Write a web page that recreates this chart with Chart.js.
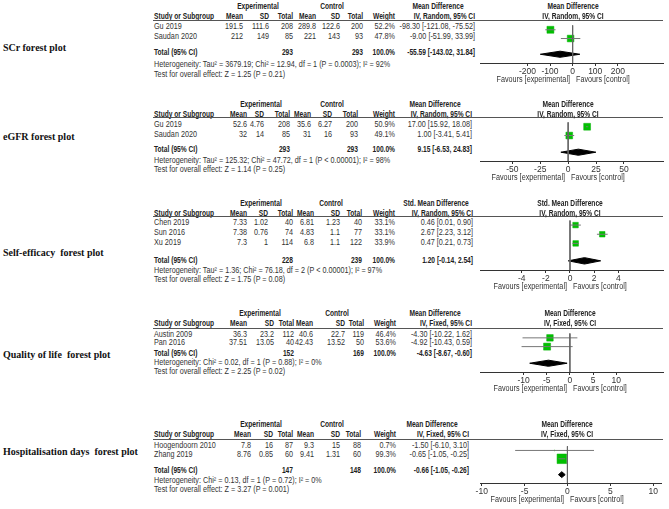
<!DOCTYPE html>
<html>
<head>
<meta charset="utf-8">
<title>Forest plots</title>
<script src="https://cdn.jsdelivr.net/npm/chart.js@4"></script>
<style>
  body { margin: 0; width: 669px; height: 509px; position: relative; overflow: hidden; background: #fff; }
  .t { position: absolute; white-space: pre; font: 8.5px "Liberation Sans", Arial, sans-serif; line-height: 0.9; color: #333; }
  .b { font-weight: bold; color: #222; }
  .lbl { position: absolute; white-space: pre; font: bold 10px "Liberation Serif", "Times New Roman", serif; line-height: 1; color: #111; transform: translateY(-50%); }
  .rule { position: absolute; height: 1px; background: #555; }
  canvas { position: absolute; }
</style>
</head>
<body>
<script>
// study rows: name, exp mean, exp SD, exp total, ctl mean, ctl SD, ctl total, weight %, effect, lower, upper
// total rows: exp total, ctl total, effect, lower, upper

// SCr
const scrRows = [
  ["Gu 2019", 191.5, 111.6, 208, 289.8, 122.6, 200, 52.2, -98.30, -121.08, -75.52],
  ["Saudan 2020", 212, 149, 85, 221, 143, 93, 47.8, -9.00, -51.99, 33.99]
];
const scrTotal = [293, 293, -55.59, -143.02, 31.84];
const scrTicks = [-200, -100, 0, 100, 200];
const scrRange = [-410, 400];
const scrHet = "Heterogeneity: Tau² = 3679.19; Chi² = 12.94, df = 1 (P = 0.0003); I² = 92%";
const scrTest = "Test for overall effect: Z = 1.25 (P = 0.21)";

// eGFR
const egfrRows = [
  ["Gu 2019", 52.6, 4.76, 208, 35.6, 6.27, 200, 50.9, 17.00, 15.92, 18.08],
  ["Saudan 2020", 32, 14, 85, 31, 16, 93, 49.1, 1.00, -3.41, 5.41]
];
const egfrTotal = [293, 293, 9.15, -6.53, 24.83];
const egfrTicks = [-50, -25, 0, 25, 50];
const egfrRange = [-79, 85];
const egfrHet = "Heterogeneity: Tau² = 125.32; Chi² = 47.72, df = 1 (P < 0.00001); I² = 98%";
const egfrTest = "Test for overall effect: Z = 1.14 (P = 0.25)";

// Self-efficacy
const effRows = [
  ["Chen 2019", 7.33, 1.02, 40, 6.81, 1.23, 40, 33.1, 0.46, 0.01, 0.90],
  ["Sun 2016", 7.38, 0.76, 74, 4.83, 1.1, 77, 33.1, 2.67, 2.23, 3.12],
  ["Xu 2019", 7.3, 1, 114, 6.8, 1.1, 122, 33.9, 0.47, 0.21, 0.73]
];
const effTotal = [228, 239, 1.20, -0.14, 2.54];
const effTicks = [-4, -2, 0, 2, 4];
const effRange = [-7.45, 7.7];
const effHet = "Heterogeneity: Tau² = 1.36; Chi² = 76.18, df = 2 (P < 0.00001); I² = 97%";
const effTest = "Test for overall effect: Z = 1.75 (P = 0.08)";

// Quality of life
const qolRows = [
  ["Austin 2009", 36.3, 23.2, 112, 40.6, 22.7, 119, 46.4, -4.30, -10.22, 1.62],
  ["Pan 2016", 37.51, 13.05, 40, 42.43, 13.52, 50, 53.6, -4.92, -10.43, 0.59]
];
const qolTotal = [152, 169, -4.63, -8.67, -0.60];
const qolTicks = [-10, -5, 0, 5, 10];
const qolRange = [-19.4, 20.1];
const qolHet = "Heterogeneity: Chi² = 0.02, df = 1 (P = 0.88); I² = 0%";
const qolTest = "Test for overall effect: Z = 2.25 (P = 0.02)";

// Hospitalisation days
const hospRows = [
  ["Hoogendoorn 2010", 7.8, 16, 87, 9.3, 15, 88, 0.7, -1.50, -6.10, 3.10],
  ["Zhang 2019", 8.76, 0.85, 60, 9.41, 1.31, 60, 99.3, -0.65, -1.05, -0.25]
];
const hospTotal = [147, 148, -0.66, -1.05, -0.26];
const hospTicks = [-10, -5, 0, 5, 10];
const hospRange = [-10.2, 11];
const hospHet = "Heterogeneity: Chi² = 0.13, df = 1 (P = 0.72); I² = 0%";
const hospTest = "Test for overall effect: Z = 3.27 (P = 0.001)";

const plots = [
  { label: "SCr forest plot", rows: scrRows, total: scrTotal, ticks: scrTicks, range: scrRange,
    effect: "Mean Difference", method: "IV, Random, 95% CI", het: scrHet, test: scrTest },
  { label: "eGFR forest plot", rows: egfrRows, total: egfrTotal, ticks: egfrTicks, range: egfrRange,
    effect: "Mean Difference", method: "IV, Random, 95% CI", het: egfrHet, test: egfrTest },
  { label: "Self-efficacy  forest plot", rows: effRows, total: effTotal, ticks: effTicks, range: effRange,
    effect: "Std. Mean Difference", method: "IV, Random, 95% CI", het: effHet, test: effTest },
  { label: "Quality of life  forest plot", rows: qolRows, total: qolTotal, ticks: qolTicks, range: qolRange,
    effect: "Mean Difference", method: "IV, Fixed, 95% CI", het: qolHet, test: qolTest },
  { label: "Hospitalisation days  forest plot", rows: hospRows, total: hospTotal, ticks: hospTicks, range: hospRange,
    effect: "Mean Difference", method: "IV, Fixed, 95% CI", het: hospHet, test: hospTest }
];

// where each panel sits on the page (px)
const layout = [
  { top: 20, gap: 1.3, labelY: 48, groupY: 7, headY: 16.5, rowsY: [26.5, 36.5], totalY: 53, hetY: 65, testY: 75,
    cols: [243, 269, 293, 316, 340, 363, 395, 475], exp: 258, ctl: 332 },
  { top: 117, gap: 1.4, labelY: 137, groupY: 105, headY: 114.5, rowsY: [125, 134.5], totalY: 149.5, hetY: 161, testY: 170,
    cols: [247, 264, 290, 311, 332, 358, 395, 472], exp: 261, ctl: 332 },
  { top: 216, gap: 1.4, labelY: 253, groupY: 203.5, headY: 213.5, rowsY: [223, 233, 243], totalY: 260.5, hetY: 270.5, testY: 280,
    cols: [247, 268, 293, 314, 340, 362, 395, 473], exp: 261, ctl: 331 },
  { top: 328, gap: 1.4, labelY: 355, groupY: 314, headY: 323.5, rowsY: [334.5, 343], totalY: 354, hetY: 363, testY: 371.5,
    cols: [247, 274, 294, 313, 345, 364, 396, 472], exp: 260, ctl: 337 },
  { top: 439, gap: 1.4, labelY: 452, groupY: 425, headY: 434.5, rowsY: [445.5, 455], totalY: 471, hetY: 480.5, testY: 489.5,
    cols: [251, 273, 293, 314, 340, 361, 396, 469], exp: 261, ctl: 332 }
];

function put(text, x, y, align, cls) {
  align = align || "left";
  const el = document.createElement("div");
  el.className = "t" + (cls ? " " + cls : "");
  el.textContent = text;
  el.style.left = x + "px";
  el.style.top = y + "px";
  const shift = { left: "0", right: "-100%", center: "-50%" }[align];
  const squeeze = cls === "b" ? 0.78 : 0.85;
  el.style.transformOrigin = { left: "left center", right: "right center", center: "center center" }[align];
  el.style.transform = "translate(" + shift + ", -50%) scaleX(" + squeeze + ")";
  document.body.appendChild(el);
  return el;
}

function ci(est, lo, hi) {
  return est.toFixed(2) + " [" + lo.toFixed(2) + ", " + hi.toFixed(2) + "]";
}

plots.forEach((p, k) => {
  const L = layout[k];
  const c = L.cols;
  const n = p.rows.length;

  // left caption
  const cap = document.createElement("div");
  cap.className = "lbl";
  cap.textContent = p.label;
  cap.style.left = "3px";
  cap.style.top = L.labelY + "px";
  document.body.appendChild(cap);

  // table header
  put("Experimental", L.exp, L.groupY, "center", "b");
  put("Control", L.ctl, L.groupY, "center", "b");
  put(p.effect, c[7] - 37, L.groupY, "center", "b");
  put("Study or Subgroup", 154, L.headY, "left", "b");
  ["Mean", "SD", "Total", "Mean", "SD", "Total", "Weight", p.method]
    .forEach((h, i) => put(h, c[i], L.headY, "right", "b"));

  const rule = document.createElement("div");
  rule.className = "rule";
  rule.style.left = "153px";
  rule.style.width = "510px";
  rule.style.top = L.top + "px";
  document.body.appendChild(rule);

  // study rows
  p.rows.forEach((r, i) => {
    const y = L.rowsY[i];
    put(r[0], 154, y);
    for (let j = 1; j <= 6; j++) put(String(r[j]), c[j - 1], y, "right");
    put(r[7].toFixed(1) + "%", c[6], y, "right");
    put(ci(r[8], r[9], r[10]), c[7], y, "right");
  });

  // total row and notes
  const t = p.total;
  put("Total (95% CI)", 154, L.totalY, "left", "b");
  put(String(t[0]), c[2], L.totalY, "right", "b");
  put(String(t[1]), c[5], L.totalY, "right", "b");
  put("100.0%", c[6], L.totalY, "right", "b");
  put(ci(t[2], t[3], t[4]), c[7], L.totalY, "right", "b");
  put(p.het, 154, L.hetY);
  put(p.test, 154, L.testY);

  // forest plot
  const ymax = n + L.gap + 1;
  const canvas = document.createElement("canvas");
  canvas.width = 199;
  canvas.height = Math.round(ymax * 10) + 14;
  canvas.style.left = "470px";
  canvas.style.top = L.top + "px";
  document.body.appendChild(canvas);

  const datasets = [];
  datasets.push({ data: [{ x: 0, y: 0 }, { x: 0, y: ymax }], showLine: true,
    borderColor: "#666", borderWidth: 1, pointRadius: 0 });
  p.rows.forEach((r, i) => {
    datasets.push({ data: [{ x: r[9], y: i + 0.5 }, { x: r[10], y: i + 0.5 }], showLine: true,
      borderColor: "#777", borderWidth: 1, pointRadius: 0 });
  });
  datasets.push({
    data: p.rows.map((r, i) => ({ x: r[8], y: i + 0.5 })),
    pointStyle: "rect",
    pointRadius: p.rows.map(r => 0.68 * Math.sqrt(r[7])),
    backgroundColor: "#00c000", borderColor: "#00b000", borderWidth: 0.5
  });
  const yd = n + L.gap;
  datasets.push({
    data: [{ x: t[3], y: yd }, { x: t[2], y: yd - 0.35 }, { x: t[4], y: yd }, { x: t[2], y: yd + 0.35 }, { x: t[3], y: yd }],
    showLine: true, fill: "shape", backgroundColor: "#000", borderColor: "#000", borderWidth: 1, pointRadius: 0
  });

  const chart = new Chart(canvas, {
    type: "scatter",
    data: { datasets },
    options: {
      responsive: false,
      animation: false,
      devicePixelRatio: 1,
      layout: { padding: { left: 10, right: 6, top: 0, bottom: 0 } },
      plugins: { legend: { display: false }, tooltip: { enabled: false } },
      datasets: { scatter: { clip: false } },
      scales: {
        x: {
          type: "linear", min: p.range[0], max: p.range[1],
          afterBuildTicks: s => { s.ticks = p.ticks.map(v => ({ value: v })); },
          afterFit: s => { s.height = 14; },
          grid: { drawOnChartArea: false, drawTicks: true, tickLength: 3, color: "#333" },
          border: { color: "#333", width: 1 },
          ticks: { font: { size: 8.5, family: "Liberation Sans" }, color: "#333", padding: 1,
            maxRotation: 0, autoSkip: false, callback: v => String(v) }
        },
        y: { type: "linear", display: false, reverse: true, min: 0, max: ymax }
      }
    }
  });

  // plot header and favours labels, placed on the zero line
  const zx = 470 + chart.scales.x.getPixelForValue(0);
  const axisY = L.top + ymax * 10;
  put(p.effect, zx, L.groupY, "center", "b");
  put(p.method, zx, L.headY, "center", "b");
  put("Favours [experimental]", zx - 3, axisY + 17, "right");
  put("Favours [control]", zx + 3, axisY + 17, "left");
});
</script>
</body>
</html>
